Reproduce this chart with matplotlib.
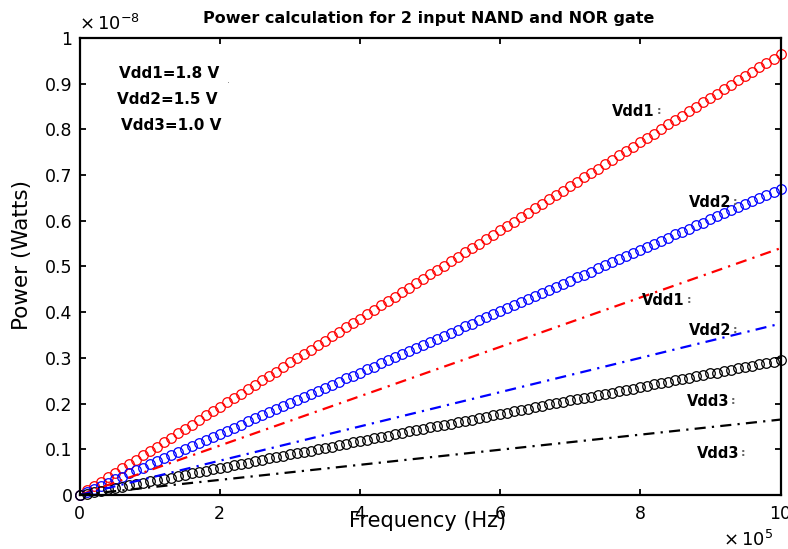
import matplotlib
matplotlib.use("Agg")
import matplotlib.pyplot as plt

# Frequency grid (units of 1e4 Hz -> 0 .. 1e6 Hz)
freq_1e4Hz = list(range(0, 101))

# Power of circle-marked series, units of 1e-10 W
p_vdd1_circ = [0.0, 1.0, 1.9, 2.9, 3.9, 4.8, 5.8, 6.8, 7.7, 8.7, 9.7, 10.6, 11.6, 12.5, 13.5, 14.5,
               15.4, 16.4, 17.4, 18.3, 19.3, 20.3, 21.2, 22.2, 23.2, 24.1, 25.1, 26.1, 27.0, 28.0,
               29.0, 29.9, 30.9, 31.8, 32.8, 33.8, 34.7, 35.7, 36.7, 37.6, 38.6, 39.6, 40.5, 41.5,
               42.5, 43.4, 44.4, 45.4, 46.3, 47.3, 48.3, 49.2, 50.2, 51.1, 52.1, 53.1, 54.0, 55.0,
               56.0, 56.9, 57.9, 58.9, 59.8, 60.8, 61.8, 62.7, 63.7, 64.7, 65.6, 66.6, 67.6, 68.5,
               69.5, 70.4, 71.4, 72.4, 73.3, 74.3, 75.3, 76.2, 77.2, 78.2, 79.1, 80.1, 81.1, 82.0,
               83.0, 84.0, 84.9, 85.9, 86.9, 87.8, 88.8, 89.7, 90.7, 91.7, 92.6, 93.6, 94.6, 95.5, 96.5]
p_vdd2_circ = [0.0, 0.7, 1.3, 2.0, 2.7, 3.4, 4.0, 4.7, 5.4, 6.0, 6.7, 7.4, 8.0, 8.7, 9.4, 10.1,
               10.7, 11.4, 12.1, 12.7, 13.4, 14.1, 14.7, 15.4, 16.1, 16.8, 17.4, 18.1, 18.8, 19.4,
               20.1, 20.8, 21.4, 22.1, 22.8, 23.5, 24.1, 24.8, 25.5, 26.1, 26.8, 27.5, 28.1, 28.8,
               29.5, 30.2, 30.8, 31.5, 32.2, 32.8, 33.5, 34.2, 34.8, 35.5, 36.2, 36.9, 37.5, 38.2,
               38.9, 39.5, 40.2, 40.9, 41.5, 42.2, 42.9, 43.6, 44.2, 44.9, 45.6, 46.2, 46.9, 47.6,
               48.2, 48.9, 49.6, 50.3, 50.9, 51.6, 52.3, 52.9, 53.6, 54.3, 54.9, 55.6, 56.3, 57.0,
               57.6, 58.3, 59.0, 59.6, 60.3, 61.0, 61.6, 62.3, 63.0, 63.7, 64.3, 65.0, 65.7, 66.3, 67.0]
p_vdd3_circ = [0.0, 0.3, 0.6, 0.9, 1.2, 1.5, 1.8, 2.1, 2.4, 2.7, 3.0, 3.2, 3.5, 3.8, 4.1, 4.4,
               4.7, 5.0, 5.3, 5.6, 5.9, 6.2, 6.5, 6.8, 7.1, 7.4, 7.7, 8.0, 8.3, 8.6, 8.9, 9.1,
               9.4, 9.7, 10.0, 10.3, 10.6, 10.9, 11.2, 11.5, 11.8, 12.1, 12.4, 12.7, 13.0, 13.3,
               13.6, 13.9, 14.2, 14.5, 14.8, 15.0, 15.3, 15.6, 15.9, 16.2, 16.5, 16.8, 17.1, 17.4,
               17.7, 18.0, 18.3, 18.6, 18.9, 19.2, 19.5, 19.8, 20.1, 20.4, 20.7, 20.9, 21.2, 21.5,
               21.8, 22.1, 22.4, 22.7, 23.0, 23.3, 23.6, 23.9, 24.2, 24.5, 24.8, 25.1, 25.4, 25.7,
               26.0, 26.3, 26.6, 26.8, 27.1, 27.4, 27.7, 28.0, 28.3, 28.6, 28.9, 29.2, 29.5]

# Dash-dot series, frequency in units of 1e5 Hz, power in 1e-10 W
freq_dd_1e5Hz = [0, 2, 4, 6, 8, 10]
p_vdd1_dd = [0.0, 10.8, 21.6, 32.4, 43.2, 54.0]
p_vdd2_dd = [0.0, 7.5, 15.0, 22.5, 30.0, 37.5]
p_vdd3_dd = [0.0, 3.3, 6.6, 9.9, 13.2, 16.5]

x_ticks = [0, 2, 4, 6, 8, 10]
y_ticks = [0, 0.1, 0.2, 0.3, 0.4, 0.5, 0.6, 0.7, 0.8, 0.9, 1]
y_ticklabels = ['0', '0.1', '0.2', '0.3', '0.4', '0.5', '0.6', '0.7', '0.8', '0.9', '1']

fig = plt.figure(figsize=(7.88, 5.49), dpi=100)
ax = fig.add_axes([0.1009, 0.0984, 0.8896, 0.8324])

xs = [f / 10 for f in freq_1e4Hz]
for p, c in [(p_vdd1_circ, 'red'), (p_vdd2_circ, 'blue'), (p_vdd3_circ, 'black')]:
    ax.plot(xs, [v / 100 for v in p], linestyle='none', marker='o', markersize=6.9,
            markerfacecolor='none', markeredgecolor=c, markeredgewidth=0.9, clip_on=False)

for p, c in [(p_vdd1_dd, 'red'), (p_vdd2_dd, 'blue'), (p_vdd3_dd, 'black')]:
    ax.plot(freq_dd_1e5Hz, [v / 100 for v in p], color=c, linewidth=1.6,
            linestyle=(0, (5, 2.8, 1, 2.8)))

ax.set_xlim(0, 10)
ax.set_ylim(0, 1)
ax.set_xticks(x_ticks)
ax.set_xticklabels([str(t) for t in x_ticks])
ax.set_yticks(y_ticks)
ax.set_yticklabels(y_ticklabels)
ax.tick_params(direction='in', length=4, width=1.3, top=True, right=True,
               labelsize=12.5, pad=5)
ax.tick_params(axis='x', pad=7)
for s in ax.spines.values():
    s.set_linewidth(1.6)

fig.text(428 / 788, 1 - 521 / 549, 'Frequency (Hz)', ha='center', va='center', fontsize=15)
fig.text(22 / 788, 1 - 255 / 549, 'Power (Watts)', ha='center', va='center',
         rotation=90, fontsize=15.5)

fig.text(429 / 788, 1 - 19 / 549, 'Power calculation for 2 input NAND and NOR gate',
         ha='center', va='center', fontsize=11.5, fontweight='bold')
fig.text(0.100, 0.945, r'$\times\,10^{-8}$', ha='left', va='baseline', fontsize=13)
fig.text(0.918, 0.005, r'$\times\,10^{5}$', ha='left', va='baseline', fontsize=13)

for txt, px, py in [('Vdd1=1.8 V', 119, 73), ('Vdd2=1.5 V', 117, 99), ('Vdd3=1.0 V', 121, 126)]:
    fig.text(px / 788, 1 - py / 549, txt, ha='left', va='center', fontsize=11, fontweight='bold')
fig.text(227 / 788, 1 - 80 / 549, '.', ha='left', va='center', fontsize=7, color='0.5')

curve_labels = [('Vdd1', 7.6, 0.84), ('Vdd2', 8.69, 0.641), ('Vdd1', 8.03, 0.425),
                ('Vdd2', 8.69, 0.359), ('Vdd3', 8.66, 0.204), ('Vdd3', 8.81, 0.09)]
for txt, x, y in curve_labels:
    t = ax.text(x, y, txt, ha='left', va='center', fontsize=10.5, fontweight='bold')
    ax.annotate(':', xy=(1, 0.2), xycoords=t, xytext=(1, 0), textcoords='offset points',
                ha='left', va='bottom', fontsize=8, fontweight='bold', color='0.4')

fig.savefig('out.png', dpi=100)
